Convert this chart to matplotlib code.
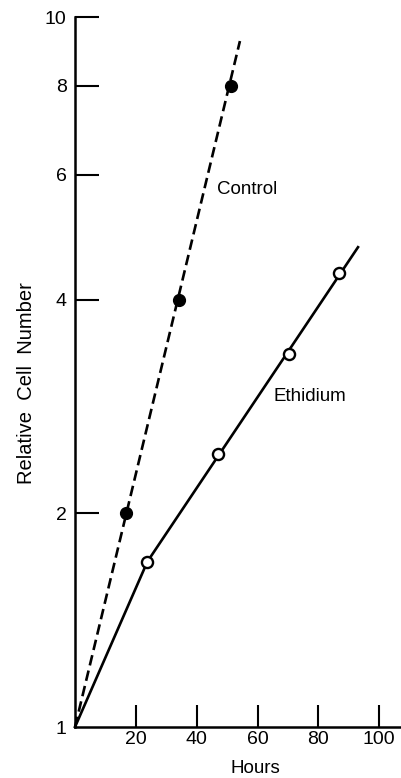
import matplotlib
matplotlib.use("Agg")
import matplotlib.pyplot as plt

plt.rcParams['font.family'] = ['Liberation Sans', 'DejaVu Sans']

# data (hours, relative cell number)
control_x = [16.7, 34.2, 51.3]
control_y = [2.0, 4.0, 8.0]
ethidium_x = [23.8, 47.0, 70.4, 86.8]
ethidium_y = [1.71, 2.42, 3.35, 4.36]

# drawn lines through the points
control_line_x = [0, 54.2]
control_line_y = [1, 9.25]
ethidium_line_x = [0, 23.8, 93.0]
ethidium_line_y = [1, 1.71, 4.74]

yticks = [1, 2, 4, 6, 8, 10]
xticks = [20, 40, 60, 80, 100]

fig = plt.figure(figsize=(4.01, 7.78), dpi=100)
ax = fig.add_axes([75/401, 51/778, 325/401, 710/778])

ax.plot(control_line_x, control_line_y, color='black', lw=1.9,
        linestyle=(0, (4, 2)), clip_on=False)
ax.plot(ethidium_line_x, ethidium_line_y, color='black', lw=1.9, clip_on=False)
ax.plot(control_x, control_y, 'o', color='black', markersize=8.5, clip_on=False)
ax.plot(ethidium_x, ethidium_y, 'o', markerfacecolor='white',
        markeredgecolor='black', markeredgewidth=1.7, markersize=8, clip_on=False)

ax.set_yscale('log')
ax.set_ylim(1, 10)
ax.set_xlim(0, 106.8)
ax.minorticks_off()
ax.set_yticks(yticks)
ax.set_yticklabels([str(v) for v in yticks])
ax.set_xticks(xticks)
ax.set_xticklabels([str(v) for v in xticks])

for s in ['top', 'right']:
    ax.spines[s].set_visible(False)
for s in ['left', 'bottom']:
    ax.spines[s].set_linewidth(1.8)

ax.tick_params(axis='y', direction='in', length=17, width=1.5, pad=6, labelsize=14)
ax.tick_params(axis='x', direction='in', length=16, width=1.5, pad=3, labelsize=14)
# no tick mark at the origin for y
ax.yaxis.get_major_ticks()[0].tick1line.set_visible(False)

ax.text(46.7, 5.71, 'Control', fontsize=13.5, va='center', ha='left')
ax.text(65.1, 2.92, 'Ethidium', fontsize=13.5, va='center', ha='left')

ax.set_ylabel('Relative  Cell  Number', fontsize=14.5)
ax.yaxis.set_label_coords(-0.12, 0.485)
ax.set_xlabel('Hours', fontsize=13.5)
ax.xaxis.set_label_coords(0.554, -0.047)

fig.savefig('out.png', dpi=100)
